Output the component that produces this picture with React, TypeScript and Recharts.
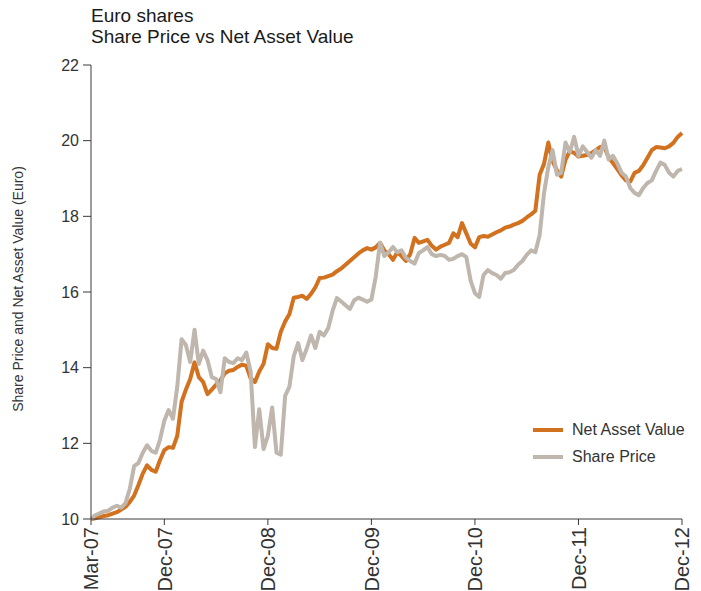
import React from 'react';
import { LineChart, Line, XAxis, YAxis } from 'recharts';

const tickMonths = [0, 8.5, 20.5, 32.5, 44.5, 56.5, 68.5];
const tickLabels = ['Mar-07', 'Dec-07', 'Dec-08', 'Dec-09', 'Dec-10', 'Dec-11', 'Dec-12'];
const yTicks = [10, 12, 14, 16, 18, 20, 22];

const netAssetValue = [
  10.0, 10.02, 10.05, 10.08, 10.1, 10.14, 10.18, 10.25, 10.32, 10.45,
  10.62, 10.9, 11.2, 11.42, 11.3, 11.25, 11.56, 11.82, 11.9, 11.88,
  12.2, 13.1, 13.42, 13.7, 14.14, 13.75, 13.62, 13.3, 13.42, 13.55,
  13.67, 13.85, 13.92, 13.94, 14.02, 14.08, 14.05, 13.72, 13.62, 13.9,
  14.1, 14.62, 14.52, 14.5, 14.95, 15.22, 15.42, 15.85, 15.87, 15.9,
  15.82, 15.95, 16.12, 16.37, 16.38, 16.42, 16.46, 16.55, 16.62, 16.72,
  16.82, 16.92, 17.02, 17.1, 17.16, 17.12, 17.18, 17.3, 17.1, 17.0,
  16.85, 17.05, 16.95, 16.82, 17.0, 17.43, 17.3, 17.34, 17.38, 17.22,
  17.12, 17.2, 17.25, 17.3, 17.55, 17.45, 17.82, 17.55, 17.28, 17.18,
  17.45, 17.48, 17.46, 17.52, 17.58, 17.63, 17.7, 17.73, 17.78, 17.82,
  17.88, 17.97, 18.05, 18.15, 19.1, 19.38, 19.95, 19.45, 19.22, 19.05,
  19.5, 19.72, 19.68, 19.58, 19.6, 19.62, 19.67, 19.75, 19.83, 19.84,
  19.55, 19.41, 19.25, 19.08, 18.95, 18.92, 19.15, 19.2, 19.35, 19.55,
  19.75, 19.83, 19.82, 19.8, 19.85, 19.94, 20.1, 20.2,
];

const sharePrice = [
  10.0, 10.1, 10.15, 10.2, 10.22, 10.3, 10.35, 10.3, 10.42, 10.8,
  11.4, 11.48, 11.75, 11.95, 11.8, 11.75, 12.1, 12.6, 12.88, 12.65,
  13.5, 14.75, 14.6, 14.15, 15.0, 14.1, 14.45, 14.2, 13.75, 13.7,
  13.35, 14.25, 14.15, 14.12, 14.25, 14.2, 14.4, 13.9, 11.9, 12.9,
  11.85, 12.2, 12.95, 11.75, 11.7, 13.25, 13.5, 14.3, 14.65, 14.2,
  14.5, 14.85, 14.52, 14.95, 14.85, 15.05, 15.5, 15.84, 15.75, 15.65,
  15.55, 15.78, 15.85, 15.8, 15.74, 15.8, 16.4, 17.3, 16.95, 17.05,
  17.19, 17.05, 17.1, 16.9, 16.82, 16.75, 17.03, 17.1, 17.19, 17.0,
  16.95, 16.98, 16.95, 16.85, 16.88, 16.95, 17.0, 16.92, 16.3, 15.97,
  15.87, 16.45, 16.58, 16.5, 16.45, 16.35, 16.5, 16.52, 16.58, 16.72,
  16.82, 16.98, 17.1, 17.05, 17.5, 18.6, 19.3, 19.75, 19.1, 19.15,
  19.95, 19.7, 20.1, 19.6, 19.85, 19.7, 19.55, 19.75, 19.6, 20.0,
  19.5, 19.6, 19.4, 19.15, 19.05, 18.75, 18.62, 18.56, 18.75, 18.88,
  18.95, 19.2, 19.42, 19.36, 19.15, 19.05, 19.2, 19.25,
];

const data = netAssetValue.map((v, i) => ({ t: i / 2, nav: v, sp: sharePrice[i] }));

const NAV_COLOR = '#D2711E';
const SP_COLOR = '#BFB6AD';
const AXIS_COLOR = '#3a3a3a';
const FONT = '"Liberation Sans", Arial, Helvetica, sans-serif';

const legendItems = [
  { label: 'Net Asset Value', color: NAV_COLOR },
  { label: 'Share Price', color: SP_COLOR },
];

const XTick = (props: any) => {
  const { x, y, payload } = props;
  const idx = tickMonths.indexOf(payload.value);
  return (
    <g transform={`translate(${x},${y})`}>
      <text
        x={0}
        y={0}
        dy="0.36em"
        transform="rotate(-90)"
        textAnchor="end"
        fill="#333"
        fontSize={20}
        fontFamily={FONT}
      >
        {idx >= 0 ? tickLabels[idx] : ''}
      </text>
    </g>
  );
};

export default function App() {
  return (
    <div style={{ position: 'relative', width: 693, height: 583, fontFamily: FONT }}>
      <div
        style={{
          position: 'absolute',
          left: 83,
          top: -3,
          fontSize: 19,
          lineHeight: '21px',
          color: '#1a1a1a',
          whiteSpace: 'nowrap',
        }}
      >
        <div>Euro shares</div>
        <div>Share Price vs Net Asset Value</div>
      </div>
      <div
        style={{
          position: 'absolute',
          left: 10,
          top: 281,
          transform: 'translate(-50%, -50%) rotate(-90deg)',
          fontSize: 14,
          color: '#333',
          whiteSpace: 'nowrap',
        }}
      >
        Share Price and Net Asset Value (Euro)
      </div>
      <div style={{ position: 'absolute', left: 525, top: 408, zIndex: 2 }}>
        {legendItems.map((it) => (
          <div key={it.label} style={{ display: 'flex', alignItems: 'center', height: 27 }}>
            <span style={{ display: 'inline-block', width: 30, height: 4, background: it.color, marginRight: 9 }} />
            <span style={{ fontSize: 16, color: '#333' }}>{it.label}</span>
          </div>
        ))}
      </div>
      <LineChart
        width={693}
        height={583}
        data={data}
        margin={{ top: 57, right: 19, bottom: 0, left: 0 }}
      >
        <XAxis
          dataKey="t"
          type="number"
          domain={[0, 68.5]}
          ticks={tickMonths}
          interval={0}
          height={72}
          tickSize={6}
          tickMargin={2}
          tick={<XTick />}
          axisLine={{ stroke: AXIS_COLOR, strokeWidth: 1 }}
          tickLine={{ stroke: AXIS_COLOR, strokeWidth: 1 }}
        />
        <YAxis
          type="number"
          domain={[10, 22]}
          ticks={yTicks}
          interval={0}
          width={83}
          tickSize={8}
          tickMargin={4}
          axisLine={{ stroke: AXIS_COLOR, strokeWidth: 1 }}
          tickLine={{ stroke: AXIS_COLOR, strokeWidth: 1 }}
          tick={{ fill: '#333', fontSize: 16, fontFamily: FONT }}
        />
        <Line
          type="linear"
          dataKey="nav"
          name="Net Asset Value"
          stroke={NAV_COLOR}
          strokeWidth={4}
          dot={false}
          strokeLinejoin="round"
          isAnimationActive={false}
        />
        <Line
          type="linear"
          dataKey="sp"
          name="Share Price"
          stroke={SP_COLOR}
          strokeWidth={4}
          dot={false}
          strokeLinejoin="round"
          isAnimationActive={false}
        />
      </LineChart>
    </div>
  );
}
